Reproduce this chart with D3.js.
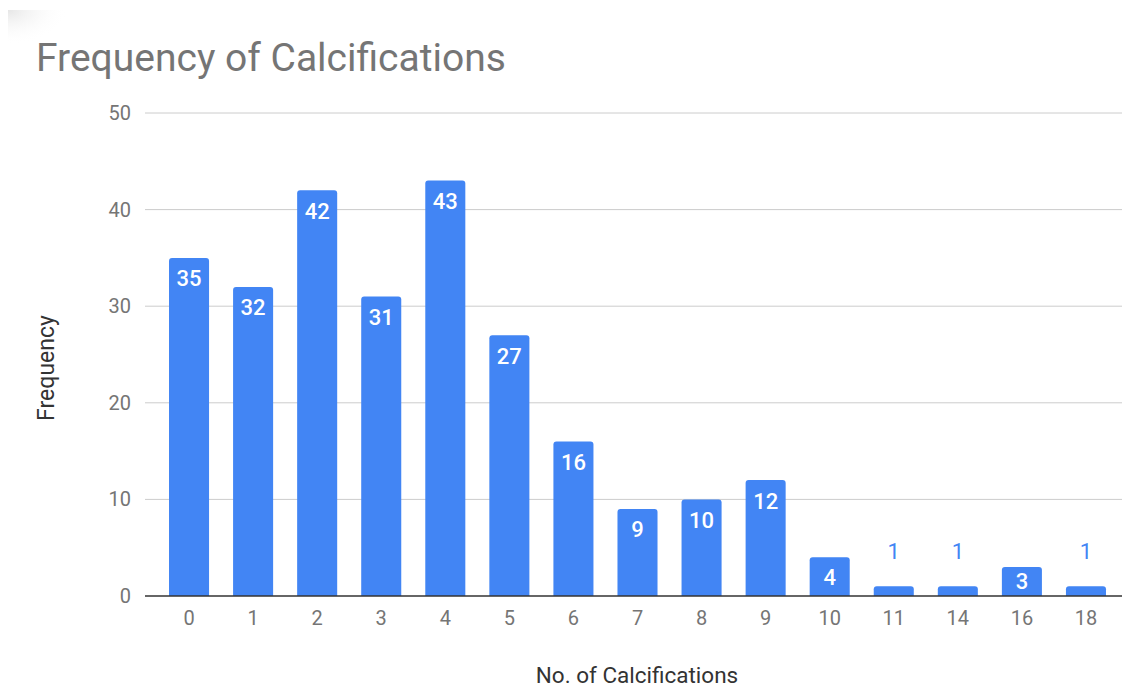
<!DOCTYPE html>
<html><head><meta charset="utf-8">
<script src="https://cdn.jsdelivr.net/npm/d3@7"></script>
<style>body{margin:0;background:#fff}svg{display:block;font-family:Roboto,"Noto Sans",sans-serif}</style>
</head><body><svg id="c" width="1124" height="689"></svg>
<script>
const categories = ["0","1","2","3","4","5","6","7","8","9","10","11","14","16","18"];
const values = [35,32,42,31,43,27,16,9,10,12,4,1,1,3,1];
const yTicks = [0,10,20,30,40,50];
const titleText = "Frequency of Calcifications";
const xTitle = "No. of Calcifications";
const yTitle = "Frequency";

const svg = d3.select("#c");
const plotLeft = 145, plotRight = 1122, plotTop = 113, plotBottom = 596;

// subtle corner shadow
const defs = svg.append("defs");
const rg = defs.append("radialGradient").attr("id","sh").attr("cx","0").attr("cy","0").attr("r","1");
rg.append("stop").attr("offset","0").attr("stop-color","#e6e6e6");
rg.append("stop").attr("offset","1").attr("stop-color","#fff").attr("stop-opacity",0);
svg.append("rect").attr("x",8).attr("y",10).attr("width",60).attr("height",35).attr("fill","url(#sh)");

const x = d3.scaleBand().domain(categories).range([157,1118]).paddingInner(0.375).paddingOuter(0.1875);
const y = d3.scaleLinear().domain([0,50]).range([plotBottom, plotTop]);

// gridlines
svg.append("g").selectAll("line").data(yTicks.filter(d=>d!==0)).join("line")
  .attr("x1",plotLeft).attr("x2",plotRight).attr("y1",d=>y(d)).attr("y2",d=>y(d))
  .attr("stroke","#cccccc").attr("stroke-width",1);

// y axis labels
const yAxis = d3.axisLeft(y).tickValues(yTicks).tickSize(0).tickPadding(14);
const gy = svg.append("g").attr("transform",`translate(${plotLeft},0)`).call(yAxis);
gy.select(".domain").remove();
gy.selectAll("text").attr("fill","#757575").style("font-size","20px").style("font-family","Roboto");

// bars with rounded top
const r = 3;
svg.append("g").selectAll("path").data(values).join("path")
  .attr("fill","#4285f4")
  .attr("d",(d,i)=>{
    const x0 = x(categories[i]), w = x.bandwidth(), y0 = y(d), yb = y(0);
    const rr = Math.min(r, (yb-y0));
    return `M${x0},${yb}V${y0+rr}Q${x0},${y0} ${x0+rr},${y0}H${x0+w-rr}Q${x0+w},${y0} ${x0+w},${y0+rr}V${yb}Z`;
  });

// baseline
svg.append("line").attr("x1",plotLeft).attr("x2",plotRight).attr("y1",y(0)).attr("y2",y(0))
  .attr("stroke","#333").attr("stroke-width",1.5);

// value labels
const inside = d => (y(0)-y(d) > 24);
svg.append("g").selectAll("text").data(values).join("text")
  .attr("x",(d,i)=>x(categories[i])+x.bandwidth()/2)
  .attr("y",d=> inside(d) ? Math.min(y(d)+20.5, (y(d)+y(0))/2) : y(d)-35)
  .attr("dy","0.36em")
  .attr("text-anchor","middle")
  .attr("fill",d=> inside(d) ? "#fff" : "#4285f4")
  .style("font-size","22px").style("font-weight",d=> inside(d) ? "500" : "normal")
  .text(d=>d);

// x axis labels
const xAxis = d3.axisBottom(x).tickSize(0).tickPadding(15);
const gx = svg.append("g").attr("transform",`translate(0,${plotBottom})`).call(xAxis);
gx.select(".domain").remove();
gx.selectAll("text").attr("fill","#757575").style("font-size","20px").style("font-family","Roboto");

// title
svg.append("text").attr("x",36).attr("y",71).attr("fill","#757575")
  .style("font-size","39px").text(titleText);

// axis titles
svg.append("text").attr("x",637).attr("y",683).attr("text-anchor","middle")
  .attr("fill","#333").style("font-size","22.5px").text(xTitle);
svg.append("text").attr("transform","translate(54,368) rotate(-90)").attr("text-anchor","middle")
  .attr("fill","#333").style("font-size","23px").text(yTitle);
</script></body></html>
